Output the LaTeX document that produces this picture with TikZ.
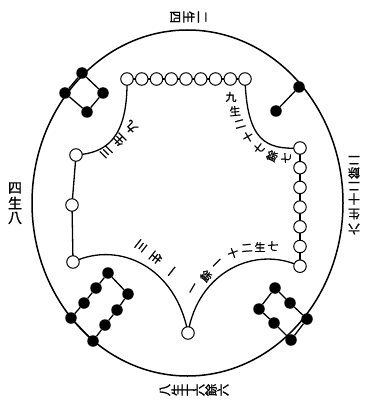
\documentclass[tikz,border=0pt]{standalone}
\usepackage{fontspec}
\newfontfamily\cjk{Noto Sans CJK TC}[FakeBold=1.2]
\begin{document}
\begin{tikzpicture}[x=1pt,y=-1pt,
  blk/.style={circle,fill=black,inner sep=0pt,minimum size=11.5pt},
  opn/.style={circle,draw,fill=white,line width=1pt,inner sep=0pt,minimum size=12.5pt},
  ln/.style={line width=1.3pt},
  chA/.style={font=\cjk\fontsize{14}{14}\selectfont,inner sep=0pt},
  chB/.style={font=\cjk\fontsize{12.5}{12.5}\selectfont,inner sep=0pt},
  chC/.style={font=\cjk\fontsize{12}{12}\selectfont,inner sep=0pt},
  chD/.style={font=\cjk\fontsize{11}{11}\selectfont,inner sep=0pt}]
\useasboundingbox (0,0) rectangle (369,406);
% outer ring
\draw[line width=1.5pt] (187.5,203) ellipse [x radius=155.5, y radius=173];
% top row of open circles (nine)
\foreach \i in {1,...,9} { \coordinate (tp\i) at ({127+(\i-1)*14.75},79); }
% left column
\coordinate (lp1) at (76,155); \coordinate (lp2) at (72,205); \coordinate (lp3) at (73,262);
% right column
\foreach \i in {1,...,7} { \coordinate (rp\i) at (300,{148+(\i-1)*19.7}); }
\coordinate (bp) at (188,333);
% connectors of the inner figure
\draw[ln] (tp1) .. controls (128,140) and (105,153) .. (lp1);
\draw[ln] (tp9) .. controls (247,140) and (265,150) .. (rp1);
\draw[ln] (lp1) -- (lp2) -- (lp3);
\draw[ln] (lp3) .. controls (120,240) and (176,268) .. (bp);
\draw[ln] (bp) .. controls (198,272) and (255,245) .. (rp7);
\draw[ln] (rp1) -- (rp7);
\draw[ln] (tp1) -- (tp9);
% open circles
\foreach \i in {1,...,9} { \node[opn] (t\i) at (tp\i) {}; }
\foreach \i in {1,2,3} { \node[opn] (l\i) at (lp\i) {}; }
\foreach \i in {1,...,7} { \node[opn] (r\i) at (rp\i) {}; }
\node[opn] (b1) at (bp) {};
% top-left group (four)
\node[blk] (d1) at (82,73) {};
\node[blk] (d2) at (65,93) {};
\node[blk] (d3) at (103,93) {};
\node[blk] (d4) at (87,112) {};
\draw[ln] (d1) -- (d2) -- (d4) -- (d3) -- (d1);
% top-right group (two)
\node[blk] (e1) at (299,87) {};
\node[blk] (e2) at (276,111) {};
\draw[ln] (e1) -- (e2);
% bottom-left group (eight)
\node[blk] (f1) at (108,273) {};
\node[blk] (f2) at (96,288) {};
\node[blk] (f3) at (84,303) {};
\node[blk] (f4) at (71,318) {};
\node[blk] (f5) at (93,341) {};
\node[blk] (f6) at (105,325) {};
\node[blk] (f7) at (117,310) {};
\node[blk] (f8) at (128,294) {};
\draw[ln] (f1) -- (f2) -- (f3) -- (f4) -- (f5) -- (f6) -- (f7) -- (f8) -- (f1);
% bottom-right group (six)
\node[blk] (g1) at (275,288) {};
\node[blk] (g2) at (259,309) {};
\node[blk] (g3) at (274,323) {};
\node[blk] (g4) at (291,340) {};
\node[blk] (g5) at (307,319) {};
\node[blk] (g6) at (290,303) {};
\draw[ln] (g1) -- (g2) -- (g3) -- (g4) -- (g5) -- (g6) -- (g1);
% outer texts
\node[chA] (oa1) at (15,188) {四};
\node[chA] (oa2) at (15,203) {生};
\node[chA] (oa3) at (15,218) {八};
\node[chB,rotate=-90] (ob1) at (202,17) {二};
\node[chB,rotate=-90] (ob2) at (189,17) {生};
\node[chB,rotate=-90] (ob3) at (175,17) {四};
\node[chC,rotate=180] (oc1) at (354,229) {六};
\node[chC,rotate=180] (oc2) at (354,214) {生};
\node[chC,rotate=180] (oc3) at (354,199) {十};
\node[chC,rotate=180] (oc4) at (354,186) {二};
\node[chC,rotate=180] (oc5) at (354,173) {餘};
\node[chC,rotate=180] (oc6) at (354,160) {二};
\node[chB,rotate=90] (od1) at (165,390) {八};
\node[chB,rotate=90] (od2) at (177,390) {生};
\node[chB,rotate=90] (od3) at (188,390) {十};
\node[chB,rotate=90] (od4) at (199,390) {六};
\node[chB,rotate=90] (od5) at (211,390) {餘};
\node[chB,rotate=90] (od6) at (223,390) {六};
% inner texts
\node[chC,rotate=135] (ia1) at (106,152) {三};
\node[chC,rotate=135] (ia2) at (119,140) {生};
\node[chC,rotate=135] (ia3) at (131,127) {九};
\node[chC,rotate=-128] (ib1) at (170,270) {一};
\node[chC,rotate=-128] (ib2) at (156,258) {生};
\node[chC,rotate=-128] (ib3) at (141,246) {三};
\node[chD] (ic1) at (231,97) {九};
\node[chD,rotate=5] (ic2) at (235,111) {生};
\node[chD,rotate=15] (ic3) at (240,124) {二};
\node[chD,rotate=30] (ic4) at (248,137) {十};
\node[chD,rotate=45] (ic5) at (259,148) {七};
\node[chD,rotate=65] (ic6) at (272,156) {餘};
\node[chD,rotate=85] (ic7) at (286,158) {七};
\node[chD,rotate=-5] (id1) at (273,246) {七};
\node[chD] (id2) at (260,247) {生};
\node[chD,rotate=5] (id3) at (247,248) {二};
\node[chD,rotate=20] (id4) at (233,253) {十};
\node[chD,rotate=45] (id5) at (218,264) {一};
\node[chD,rotate=50] (id6) at (206,276) {餘};
\node[chD,rotate=60] (id7) at (194,289) {一};
\end{tikzpicture}
\end{document}
